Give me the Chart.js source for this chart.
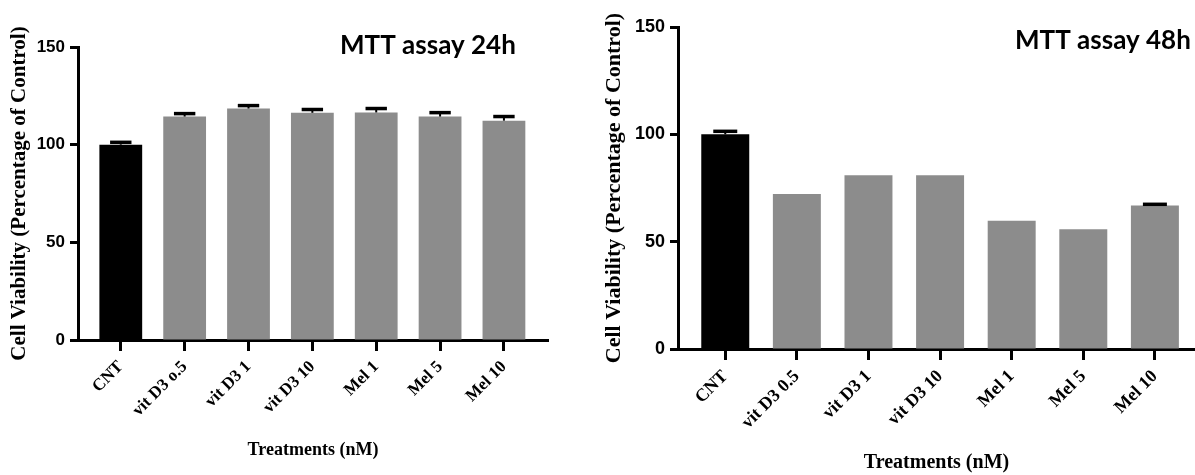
<!DOCTYPE html>
<html>
<head>
<meta charset="utf-8">
<script src="https://cdn.jsdelivr.net/npm/chart.js@4.4.1/dist/chart.umd.min.js"></script>
<style>
  html, body { margin: 0; padding: 0; background: #fff; }
  #wrap { position: relative; width: 1195px; height: 475px; overflow: hidden; }
  .panel { position: absolute; top: 0; height: 475px; }
  #p1 { left: 0; width: 600px; }
  #p2 { left: 600px; width: 595px; }
</style>
</head>
<body>
<div id="wrap">
  <div class="panel" id="p1"><canvas id="c1"></canvas></div>
  <div class="panel" id="p2"><canvas id="c2"></canvas></div>
</div>
<script>
// ---- data ----
const categories24 = ['CNT', 'vit D3 o.5', 'vit D3 1', 'vit D3 10', 'Mel 1', 'Mel 5', 'Mel 10'];
const categories48 = ['CNT', 'vit D3 0.5', 'vit D3 1', 'vit D3 10', 'Mel 1', 'Mel 5', 'Mel 10'];
const values24 = [100, 114.4, 118.5, 116.3, 116.5, 114.4, 112.3];
const errors24 = [1.2, 1.5, 1.5, 1.7, 2.0, 2.0, 2.1];
const values48 = [100, 72.2, 80.9, 80.9, 59.8, 55.8, 66.9];
const errors48 = [1.4, 0, 0, 0, 0, 0, 0.5];
const yTickValues = [0, 50, 100, 150];
const barColors = ['#000000', '#8c8c8c', '#8c8c8c', '#8c8c8c', '#8c8c8c', '#8c8c8c', '#8c8c8c'];
const title24 = 'MTT assay 24h';
const title48 = 'MTT assay 48h';
const yTitle = 'Cell Viability (Percentage of Control)';
const xTitle = 'Treatments (nM)';

Chart.defaults.color = '#000';

const errorBarPlugin = {
  id: 'errorBars',
  afterDatasetsDraw(chart, args, opts) {
    const meta = chart.getDatasetMeta(0);
    const yScale = chart.scales.y;
    const ctx = chart.ctx;
    ctx.save();
    ctx.strokeStyle = '#000';
    meta.data.forEach((bar, i) => {
      const err = opts.errors[i];
      if (!err) return;
      const v = opts.values[i];
      const yTop = yScale.getPixelForValue(v + err);
      const yBase = yScale.getPixelForValue(v);
      const half = bar.width * 0.25;
      ctx.lineWidth = 2;
      ctx.beginPath();
      ctx.moveTo(bar.x, yBase);
      ctx.lineTo(bar.x, yTop);
      ctx.stroke();
      ctx.lineWidth = opts.capWidth;
      ctx.beginPath();
      ctx.moveTo(bar.x - half, yTop);
      ctx.lineTo(bar.x + half, yTop);
      ctx.stroke();
    });
    ctx.restore();
  }
};

const panelTitlePlugin = {
  id: 'panelTitle',
  afterDraw(chart, args, opts) {
    const ctx = chart.ctx;
    ctx.save();
    ctx.font = opts.font;
    ctx.fillStyle = '#000';
    ctx.textAlign = 'left';
    ctx.textBaseline = 'middle';
    ctx.fillText(opts.text, opts.x, opts.y);
    ctx.restore();
  }
};

function makeChart(id, cfg) {
  const serif = 'Liberation Serif';
  return new Chart(document.getElementById(id), {
    type: 'bar',
    data: {
      datasets: [{
        data: cfg.values.map((v, i) => ({ x: i, y: v })),
        backgroundColor: barColors,
        borderWidth: 0,
        categoryPercentage: 1,
        barPercentage: cfg.barPct
      }]
    },
    options: {
      responsive: true,
      maintainAspectRatio: false,
      animation: false,
      layout: { padding: { top: cfg.padTop, right: cfg.padRight, bottom: 0, left: 0 } },
      plugins: {
        legend: { display: false },
        tooltip: { enabled: false },
        errorBars: { values: cfg.values, errors: cfg.errors, capWidth: 3.5 },
        panelTitle: { text: cfg.title, x: cfg.titleX, y: cfg.titleY, font: cfg.titleFont }
      },
      scales: {
        x: {
          type: 'linear',
          offset: false,
          min: cfg.xMin,
          max: cfg.xMax,
          afterBuildTicks: (s) => { s.ticks = cfg.categories.map((_, i) => ({ value: i })); },
          afterFit: (s) => { s.height = cfg.xHeight; },
          ticks: {
            autoSkip: false,
            minRotation: 45,
            maxRotation: 45,
            padding: cfg.xTickPad,
            font: { family: serif, weight: 'bold', size: cfg.xTickSize },
            callback: (v) => cfg.categories[v]
          },
          grid: { offset: false, drawOnChartArea: false, drawTicks: true, tickLength: 11, tickWidth: 3, color: '#000' },
          border: { display: true, width: 3, color: '#000' },
          title: {
            display: true,
            text: xTitle,
            font: { family: serif, weight: 'bold', size: cfg.xTitleSize },
            padding: { top: 0, bottom: cfg.xTitlePadBottom }
          }
        },
        y: {
          min: 0,
          max: 150,
          afterBuildTicks: (s) => { s.ticks = yTickValues.map(v => ({ value: v })); },
          afterFit: (s) => { s.width = 78; },
          ticks: {
            padding: 5,
            font: { family: 'Liberation Sans', weight: 'bold', size: cfg.yTickSize }
          },
          grid: { drawOnChartArea: false, drawTicks: true, tickLength: 8, tickWidth: 3, color: '#000' },
          border: { display: true, width: 3, color: '#000' },
          title: {
            display: true,
            text: yTitle,
            font: { family: serif, weight: 'bold', size: cfg.yTitleSize },
            padding: { top: cfg.yTitlePadTop, bottom: 0 }
          }
        }
      }
    },
    plugins: [errorBarPlugin, panelTitlePlugin]
  });
}

makeChart('c1', {
  categories: categories24, values: values24, errors: errors24,
  barPct: 0.67, xMin: -0.67, xMax: 6.69,
  padTop: 47, padRight: 52, xHeight: 135,
  xTickPad: 6, xTickSize: 17, xTitleSize: 18, xTitlePadBottom: 14,
  yTickSize: 17, yTitleSize: 21, yTitlePadTop: 7,
  title: title24, titleX: 340, titleY: 46, titleFont: 'bold 26px Lato'
});

makeChart('c2', {
  categories: categories48, values: values48, errors: errors48,
  barPct: 0.67, xMin: -0.66, xMax: 6.56,
  padTop: 27, padRight: 0, xHeight: 126,
  xTickPad: 6, xTickSize: 18, xTitleSize: 20, xTitlePadBottom: 0,
  yTickSize: 18, yTitleSize: 22, yTitlePadTop: 1,
  title: title48, titleX: 415, titleY: 41, titleFont: 'bold 26px Lato'
});
</script>
</body>
</html>
